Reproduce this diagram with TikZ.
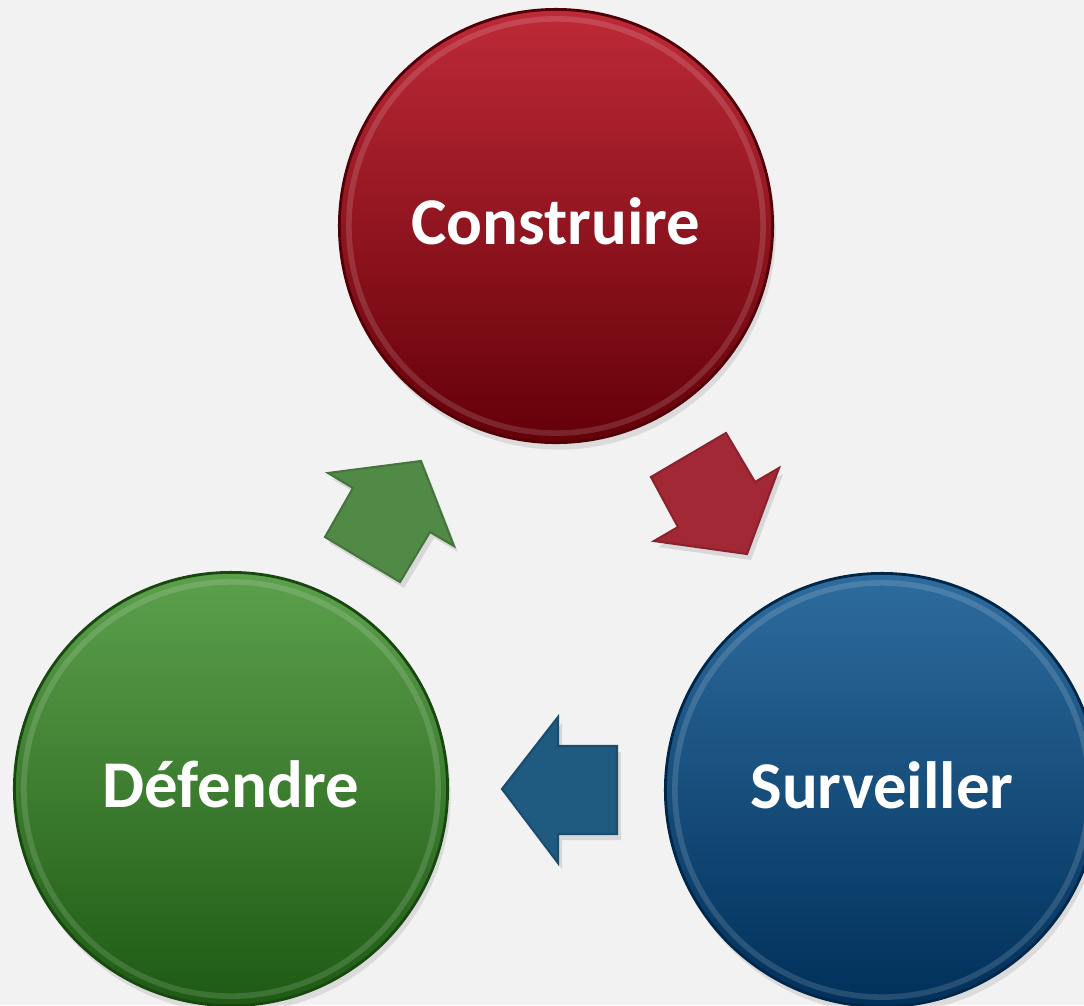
\documentclass[tikz,border=0pt]{standalone}
\usepackage{fontspec}
\setmainfont{Carlito}
\usetikzlibrary{shadows}
\definecolor{bg}{HTML}{F2F2F2}
\definecolor{redtop}{HTML}{BE2A38}
\definecolor{redmid}{HTML}{980A1A}
\definecolor{redbot}{HTML}{640008}
\definecolor{bluetop}{HTML}{2E6C9E}
\definecolor{bluemid}{HTML}{0A4A7C}
\definecolor{bluebot}{HTML}{00305A}
\definecolor{greentop}{HTML}{5CA04C}
\definecolor{greenmid}{HTML}{347A26}
\definecolor{greenbot}{HTML}{1E5A14}
\definecolor{redarrow}{HTML}{A32835}
\definecolor{greenarrow}{HTML}{518A46}
\definecolor{bluearrow}{HTML}{1F5A80}
\begin{document}
\begin{tikzpicture}[x=0.01cm,y=-0.01cm,
  disc/.style n args={4}{circle, minimum size=4.33cm, inner sep=0pt,
    top color=#1, middle color=#2, bottom color=#3, draw=#4, line width=0.8pt,
    text=white, font=\bfseries\fontsize{19}{23}\selectfont, text depth=0.1cm,
    drop shadow={opacity=0.2, shadow xshift=0.03cm, shadow yshift=-0.07cm}},
  rim/.style={draw=white, line width=1.6pt, opacity=0.14},
  blockarrow/.style={fill=#1, draw=#1!85!black, line width=0.6pt,
    drop shadow={opacity=0.22, shadow xshift=0.04cm, shadow yshift=-0.06cm}},
]
\useasboundingbox (0,0) rectangle (1084,1005);
\clip (0,0) rectangle (1084,1005);
\fill[bg] (0,0) rectangle (1084,1005);

% circles
\node[disc={redtop}{redmid}{redbot}{redbot!80!black}] (c) at (556,226) {Construire};
\node[disc={bluetop}{bluemid}{bluebot}{bluebot!80!black}] (s) at (882,790) {Surveiller};
\node[disc={greentop}{greenmid}{greenbot}{greenbot!80!black}] (d) at (231,789) {D\'efendre};

% bevel rims
\draw[rim] (c.center) circle (2.07cm);
\draw[rim] (s.center) circle (2.07cm);
\draw[rim] (d.center) circle (2.07cm);

% red arrow (Construire -> Surveiller)
\draw[blockarrow=redarrow] (747,554) -- (779,468) -- (755,482) -- (726,433)
  -- (651,477) -- (678,527) -- (654,541) -- cycle;
% blue arrow (Surveiller -> Defendre)
\draw[blockarrow=bluearrow] (502,789) -- (558,717) -- (558,746) -- (617,746)
  -- (617,834) -- (558,834) -- (558,863) -- cycle;
% green arrow (Defendre -> Construire)
\draw[blockarrow=greenarrow] (421,461) -- (454,546) -- (430,532) -- (400,582)
  -- (325,537) -- (353,488) -- (328,473) -- cycle;
\end{tikzpicture}
\end{document}
